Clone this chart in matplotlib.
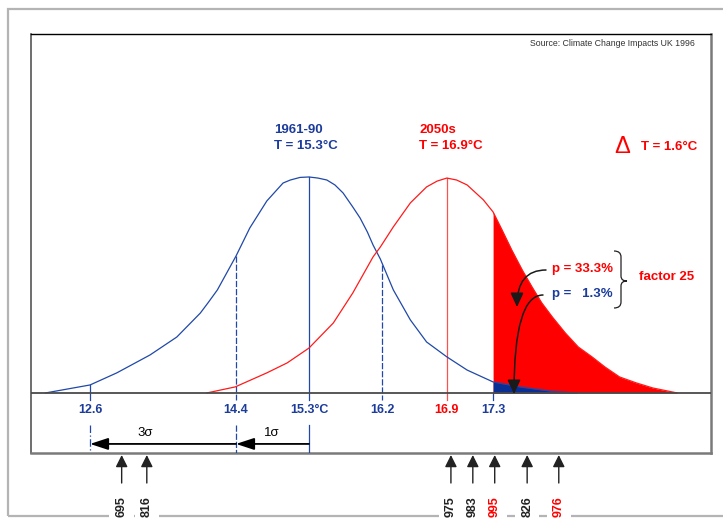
import matplotlib.pyplot as plt
import matplotlib.transforms as mtransforms
from matplotlib.patches import FancyArrowPatch, Rectangle, PathPatch
from matplotlib.path import Path

plt.rcParams['font.family'] = ['Liberation Sans', 'DejaVu Sans']

# curves: temperature (deg C) and relative height (peak = 1)
blue_t = [12.05, 12.60, 12.93, 13.34, 13.67, 13.96, 14.06, 14.17, 14.28, 14.40, 14.57,
          14.78, 14.98, 15.07, 15.19, 15.30, 15.41, 15.52, 15.62, 15.72, 15.84, 15.93,
          16.02, 16.09, 16.18, 16.21, 16.34, 16.55, 16.75, 17.00, 17.25, 17.57, 17.90,
          18.31, 18.60]
blue_y = [0.0, 0.037, 0.093, 0.176, 0.259, 0.370, 0.420, 0.477, 0.552, 0.634, 0.764,
          0.889, 0.972, 0.986, 0.998, 1.0, 0.995, 0.986, 0.963, 0.926, 0.861, 0.81,
          0.745, 0.685, 0.62, 0.593, 0.477, 0.338, 0.236, 0.167, 0.106, 0.051, 0.028,
          0.007, 0.0]

red_t = [14.04, 14.39, 14.78, 15.03, 15.30, 15.60, 15.84, 16.09, 16.18, 16.34, 16.55,
         16.75, 16.88, 17.00, 17.12, 17.25, 17.45, 17.57, 17.68, 17.80, 17.93, 18.05,
         18.17, 18.30, 18.46, 18.62, 18.79, 18.95, 19.13, 19.34, 19.54, 19.84]
red_y = [0.0, 0.028, 0.093, 0.139, 0.208, 0.324, 0.463, 0.630, 0.676, 0.769, 0.880,
         0.954, 0.981, 0.995, 0.986, 0.963, 0.894, 0.838, 0.755, 0.662, 0.569, 0.491,
         0.417, 0.352, 0.278, 0.213, 0.167, 0.120, 0.074, 0.046, 0.023, 0.0]

threshold = 17.57   # start of the shaded tail ("17.3" mark)

# marks on the temperature axis
tick_pos = [12.6, 14.4, 15.3, 16.2, 17.0, 17.57]
tick_text = ['12.6', '14.4', '15.3°C', '16.2', '16.9', '17.3']
tick_top = [0.037, 0.634, 1.0, 0.593, 0.995, 0.0]
tick_red = [False, False, False, False, True, False]
tick_dash = [False, True, False, True, False, False]

sigma_pos = [12.6, 14.4, 15.3]

# individual years
year_t = [12.99, 13.30, 17.05, 17.32, 17.59, 17.99, 18.38]
year_text = ['695', '816', '975', '983', '995', '826', '976']
year_red = [False, False, False, False, True, False, True]

BLUE = '#2048a8'
BLUE_TXT = '#1c3c9c'
NAVY = '#0a2f94'
RED = '#ff0000'

W, H = 723, 518


def fx(px):
    return px / W


def fy(py):
    return 1 - py / H


fig = plt.figure(figsize=(7.23, 5.18), dpi=100)
ax = fig.add_axes([fx(31), fy(453), fx(711) - fx(31), fy(34) - fy(453)])
ax.set_xlim(11.872, 20.257)
ax.set_ylim(-0.278, 1.662)
ax.set_xticks([])
ax.set_yticks([])
ax.spines['top'].set_color('black')
ax.spines['top'].set_linewidth(1.0)
ax.spines['left'].set_color('#555555')
ax.spines['left'].set_linewidth(1.2)
for s in ['right', 'bottom']:
    ax.spines[s].set_color('#7a7a7a')
    ax.spines[s].set_linewidth(1.8)

blend = mtransforms.blended_transform_factory(ax.transData, fig.transFigure)

# shaded tails
i = red_t.index(threshold)
j = blue_t.index(threshold)
ax.fill_between(red_t[i:], red_y[i:], 0, color=RED, lw=0, zorder=2)
ax.fill_between(blue_t[j:], blue_y[j:], 0, color=NAVY, lw=0, zorder=3)

ax.plot(blue_t, blue_y, color=BLUE, lw=0.9, zorder=4)
ax.plot(red_t, red_y, color='#ff1a1a', lw=0.9, zorder=4)
ax.axhline(0, color='#4a4a4a', lw=1.3, zorder=5)

# vertical marks + labels
for p, top, lab, isred, dash in zip(tick_pos, tick_top, tick_text, tick_red, tick_dash):
    c = '#ff5050' if isred else BLUE
    ls = (0, (5, 1.5)) if dash else '-'
    ax.plot([p, p], [top, -0.032], color=c, lw=0.9, ls=ls, zorder=3.5)
    ax.text(p, fy(410), lab, transform=blend, ha='center', va='center',
            fontsize=9, fontweight='bold', color=RED if isred else BLUE_TXT)

# sigma box
styles = [(0, (6, 2, 1, 2)), (0, (5, 1.5)), '-']
for p, ls in zip(sigma_pos, styles):
    ax.plot([p, p], [-0.148, -0.278], color=BLUE, lw=0.9, ls=ls, zorder=3)
for a, b in [(15.3, 14.4), (14.4, 12.6)]:
    ax.annotate('', xy=(b, -0.236), xytext=(a, -0.236),
                arrowprops=dict(arrowstyle='-|>,head_length=1.1,head_width=0.36',
                                color='black', lw=1.3, shrinkA=0, shrinkB=0,
                                mutation_scale=10))
fig.text(fx(145), fy(433), '3σ', ha='center', va='center', fontsize=9.5)
fig.text(fx(272), fy(433), '1σ', ha='center', va='center', fontsize=9.5)

# years below the frame
for t, lab, isred in zip(year_t, year_text, year_red):
    ar = FancyArrowPatch((t, fy(483)), (t, fy(455)), transform=blend,
                         arrowstyle='-|>,head_length=0.72,head_width=0.36',
                         mutation_scale=10, color='#222222', lw=1.0,
                         shrinkA=0, shrinkB=0)
    fig.add_artist(ar)
    fig.text(t, fy(496), lab, transform=blend, rotation=90, ha='center', va='top',
             fontsize=9, fontweight='bold', color=RED if isred else '#222222',
             zorder=5, bbox=dict(boxstyle='square,pad=0.5', fc='white', ec='none'))

# outer grey border
fig.add_artist(Rectangle((fx(8), fy(516)), 1.2, fy(9) - fy(516), transform=fig.transFigure,
                         fill=False, edgecolor='#b4b4b4', lw=1.6, zorder=1))

# texts
fig.text(fx(530), fy(43), 'Source: Climate Change Impacts UK 1996', fontsize=6.3,
         color='#333333', va='center')
fig.text(fx(274), fy(130), '1961-90', fontsize=9.5, fontweight='bold', color=BLUE_TXT, va='center')
fig.text(fx(274), fy(146), 'T = 15.3°C', fontsize=9.5, fontweight='bold', color=BLUE_TXT, va='center')
fig.text(fx(419), fy(130), '2050s', fontsize=9.5, fontweight='bold', color=RED, va='center')
fig.text(fx(419), fy(146), 'T = 16.9°C', fontsize=9.5, fontweight='bold', color=RED, va='center')
fig.text(fx(622), fy(147), 'Δ', fontsize=17, color=RED, ha='center', va='center')
fig.text(fx(641), fy(147), 'T = 1.6°C', fontsize=9.5, fontweight='bold', color=RED, va='center')
fig.text(fx(552), fy(269), 'p = 33.3%', fontsize=9.5, fontweight='bold', color=RED, va='center')
fig.text(fx(552), fy(294), 'p =   1.3%', fontsize=9.5, fontweight='bold', color=BLUE_TXT, va='center')
fig.text(fx(639), fy(277), 'factor 25', fontsize=9.5, fontweight='bold', color=RED, va='center')

# brace
bx = 621
pts = [(614, 251), (bx, 251), (bx, 257), (bx, 276), (bx, 281), (627, 281),
       (bx, 281), (bx, 286), (bx, 302), (bx, 308), (614, 308)]
codes = [Path.MOVETO, Path.CURVE3, Path.CURVE3, Path.LINETO, Path.CURVE3, Path.CURVE3,
         Path.CURVE3, Path.CURVE3, Path.LINETO, Path.CURVE3, Path.CURVE3]
brace = Path([(fx(a), fy(b)) for a, b in pts], codes)
fig.add_artist(PathPatch(brace, fill=False, lw=0.9, edgecolor='#222222',
                         transform=fig.transFigure))

# curved arrows from the p labels
for (x0, y0), (x1, y1) in [((546, 270), (517, 307)), ((543, 295), (514, 394))]:
    ar = FancyArrowPatch((fx(x0), fy(y0)), (fx(x1), fy(y1)), transform=fig.transFigure,
                         connectionstyle='angle3,angleA=0,angleB=90',
                         arrowstyle='-|>,head_length=0.86,head_width=0.4',
                         mutation_scale=10, color='#1a1a1a', lw=1.1,
                         shrinkA=0, shrinkB=0, zorder=6)
    fig.add_artist(ar)

plt.savefig('out.png', dpi=100)
